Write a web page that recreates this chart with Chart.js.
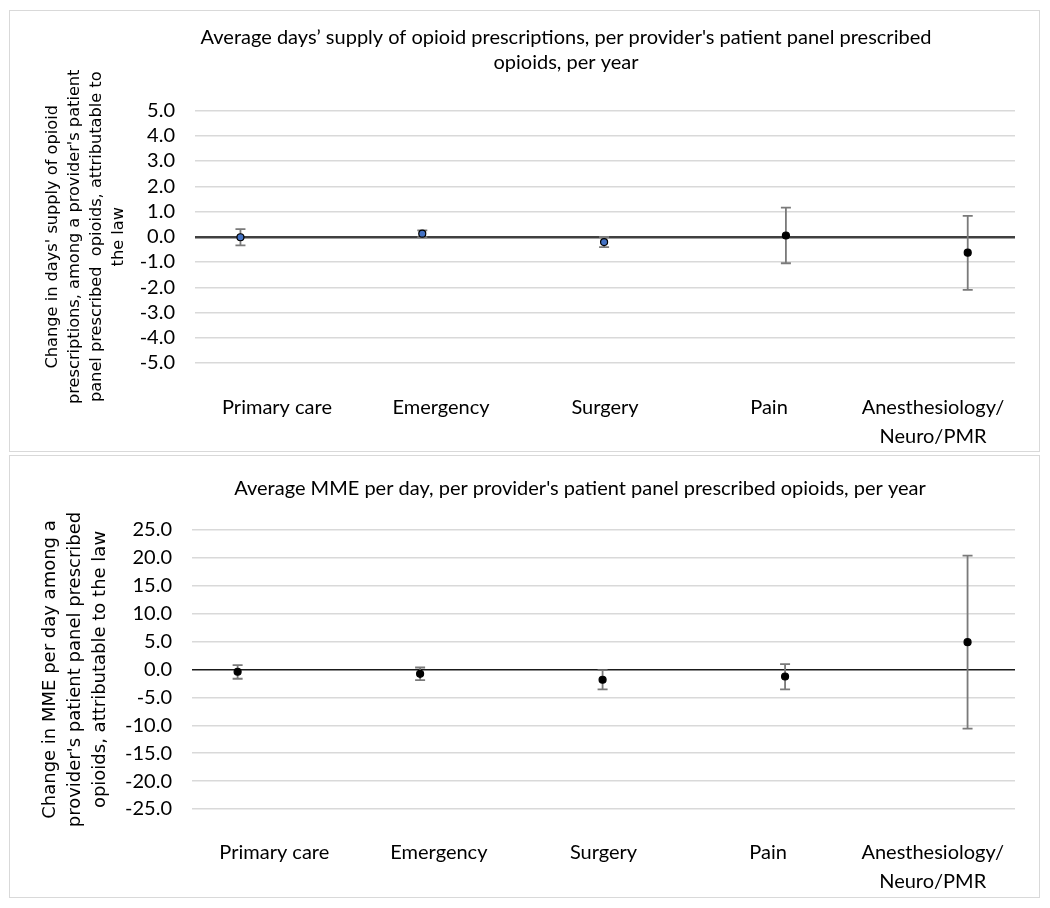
<!DOCTYPE html>
<html>
<head>
<meta charset="utf-8">
<script src="https://cdn.jsdelivr.net/npm/chart.js@4.4.1/dist/chart.umd.min.js"></script>
<style>
    html, body { margin: 0; padding: 0; background: #fff; overflow: hidden; }
    .panel { position: absolute; left: 9px; width: 1031px; border: 1px solid #d9d9d9; box-sizing: border-box; overflow: hidden; background: #fff; }
    .panel canvas { position: absolute; left: 0; top: 0; }
</style>
</head>
<body>

<div class="panel" style="top:10px;height:442px">
    <canvas id="daysChart" width="1112" height="440"></canvas>
</div>
<div class="panel" style="top:455px;height:443px">
    <canvas id="mmeChart" width="1140" height="441"></canvas>
</div>

<script>
const specialties = ["Primary care", "Emergency", "Surgery", "Pain", ["Anesthesiology/", "Neuro/PMR"]];
const positions = [1, 2, 3, 4, 5];

/* days' supply */
const daysEst = [-0.02, 0.12, -0.21, 0.05, -0.63];
const daysLow = [-0.34, -0.02, -0.41, -1.05, -2.10];
const daysHigh = [0.30, 0.25, -0.01, 1.15, 0.83];
const daysPointFill = ["#4472c4", "#4472c4", "#4472c4", "#000000", "#000000"];
const daysTicks = { min: -5, max: 5, step: 1 };

/* MME per day */
const mmeEst = [-0.40, -0.77, -1.84, -1.25, 4.90];
const mmeLow = [-1.66, -1.90, -3.57, -3.57, -10.60];
const mmeHigh = [0.77, 0.36, -0.12, 0.96, 20.40];
const mmePointFill = ["#000000", "#000000", "#000000", "#000000", "#000000"];
const mmeTicks = { min: -25, max: 25, step: 5 };

// draws the whiskers behind the points
const errorBars = {
    id: "errorBars",
    beforeDatasetsDraw(chart, args, opts) {
        const ctx = chart.ctx;
        const x = chart.scales.x;
        const y = chart.scales.y;
        ctx.save();
        ctx.strokeStyle = opts.color;
        ctx.lineWidth = opts.width;
        for (let i = 0; i < opts.low.length; i++) {
            const px = x.getPixelForValue(opts.at[i]);
            const top = y.getPixelForValue(opts.high[i]);
            const bot = y.getPixelForValue(opts.low[i]);
            ctx.beginPath();
            ctx.moveTo(px, top);
            ctx.lineTo(px, bot);
            ctx.moveTo(px - opts.cap, top);
            ctx.lineTo(px + opts.cap, top);
            ctx.moveTo(px - opts.cap, bot);
            ctx.lineTo(px + opts.cap, bot);
            ctx.stroke();
        }
        ctx.restore();
    }
};

function buildChart(id, s) {
    return new Chart(document.getElementById(id), {
        type: "scatter",
        data: {
            datasets: [{
                data: s.est.map((v, i) => ({ x: positions[i], y: v })),
                pointRadius: 3.5,
                pointBackgroundColor: s.fill,
                pointBorderColor: "#000000",
                pointBorderWidth: 1.2,
                showLine: false
            }]
        },
        plugins: [errorBars],
        options: {
            responsive: false,
            animation: false,
            layout: { padding: 0 },
            plugins: {
                legend: { display: false },
                tooltip: { enabled: false },
                title: {
                    display: true,
                    text: s.title,
                    color: "#000",
                    font: { family: "Lato", size: 20, weight: "normal", lineHeight: 25 / 20 },
                    padding: s.titlePad
                },
                errorBars: { at: positions, low: s.low, high: s.high, color: "#7a7a7a", width: 1.8, cap: 5 }
            },
            scales: {
                x: {
                    type: "linear",
                    display: false,
                    min: 0.75,
                    max: 5.26
                },
                xLabels: {
                    type: "category",
                    position: "bottom",
                    labels: specialties,
                    offset: true,
                    grid: { display: false, drawTicks: false },
                    border: { display: false },
                    ticks: {
                        color: "#000",
                        padding: s.labelPad,
                        maxRotation: 0,
                        autoSkip: false,
                        font: { family: "Lato", size: 20, lineHeight: 29 / 20 }
                    },
                    afterFit: (scale) => { scale.height = s.axisHeight; }
                },
                y: {
                    min: s.ticks.min,
                    max: s.ticks.max,
                    border: { display: false },
                    grid: {
                        drawTicks: false,
                        color: (c) => c.tick && c.tick.value === 0 ? s.zeroColor : "#d9d9d9",
                        lineWidth: (c) => c.tick && c.tick.value === 0 ? s.zeroWidth : 1.5
                    },
                    ticks: {
                        stepSize: s.ticks.step,
                        autoSkip: false,
                        padding: 20,
                        color: "#000",
                        font: { family: "Lato", size: 20, lineHeight: 1 },
                        callback: (v) => Number(v).toFixed(1)
                    },
                    title: {
                        display: true,
                        text: s.yTitle,
                        color: "#000",
                        font: { family: "DejaVu Sans", size: s.yTitleSize, lineHeight: s.yTitleLine / s.yTitleSize },
                        padding: { top: s.yTitlePad, bottom: 0 }
                    },
                    afterFit: (scale) => { scale.width = s.yWidth; }
                },
                // empty strip on the right so the title sits where the original has it
                spacer: {
                    type: "linear",
                    position: "right",
                    grid: { display: false, drawTicks: false },
                    border: { display: false },
                    ticks: { display: false },
                    afterFit: (scale) => { scale.width = s.rightWidth; }
                }
            }
        }
    });
}

buildChart("daysChart", {
    title: ["Average days\u2019 supply of opioid prescriptions, per provider's patient panel prescribed", "opioids, per year"],
    titlePad: { top: 14.5, bottom: 35 },
    yTitle: ["Change in days' supply of opioid", "prescriptions, among a provider's patient", "panel prescribed  opioids, attributable to", "the law"],
    yTitleSize: 16.2,
    yTitleLine: 22,
    yTitlePad: 31.5,
    yWidth: 185,
    rightWidth: 107,
    axisHeight: 88,
    labelPad: 30,
    ticks: daysTicks,
    est: daysEst,
    low: daysLow,
    high: daysHigh,
    fill: daysPointFill,
    zeroColor: "#404040",
    zeroWidth: 2.5
});

buildChart("mmeChart", {
    title: "Average MME per day, per provider's patient panel prescribed opioids, per year",
    titlePad: { top: 20.5, bottom: 28.5 },
    yTitle: ["Change in MME per day among a", "provider's patient panel prescribed", "opioids, attributable to the law"],
    yTitleSize: 18,
    yTitleLine: 25,
    yTitlePad: 28,
    yWidth: 182,
    rightWidth: 135,
    axisHeight: 88,
    labelPad: 29.5,
    ticks: mmeTicks,
    est: mmeEst,
    low: mmeLow,
    high: mmeHigh,
    fill: mmePointFill,
    zeroColor: "#1a1a1a",
    zeroWidth: 1.5
});
</script>
</body>
</html>
